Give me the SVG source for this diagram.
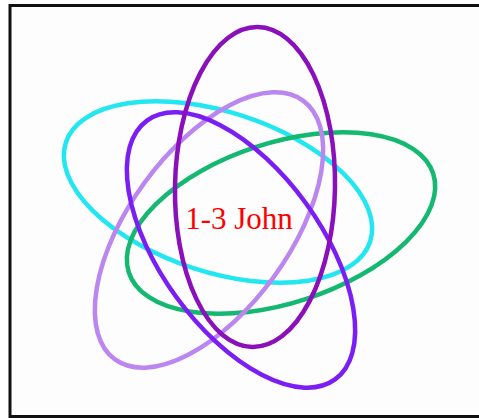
<svg xmlns="http://www.w3.org/2000/svg" width="479" height="418" viewBox="0 0 479 418">
<style>
.e{fill:none;stroke-width:4.5}
.lbl{font-family:"Liberation Serif","Times New Roman",serif;font-size:31px;fill:#ff0000}
</style>
<rect x="0" y="0" width="479" height="418" fill="#ffffff"/>
<rect x="10" y="5.5" width="475" height="411" fill="#fdfdfd" stroke="#111111" stroke-width="3"/>
<g id="cyan"><ellipse class="e" cx="218" cy="192" rx="160" ry="80" transform="rotate(18 218 192)" stroke="#22e6f0"/></g>
<g id="green"><ellipse class="e" cx="281" cy="223" rx="160" ry="80" transform="rotate(-18 281 223)" stroke="#14b870"/></g>
<g id="lavender"><ellipse class="e" cx="209" cy="230" rx="160" ry="80" transform="rotate(-54 209 230)" stroke="#bb86f0"/></g>
<g id="violet"><ellipse class="e" cx="241" cy="250" rx="160" ry="80" transform="rotate(54 241 250)" stroke="#7a1ef5"/></g>
<g id="purple"><ellipse class="e" cx="255" cy="187" rx="80" ry="160" transform="rotate(1 255 187)" stroke="#8a10bc"/></g>
<g id="label"><text class="lbl" x="239" y="229" text-anchor="middle">1-3 John</text></g>
</svg>
